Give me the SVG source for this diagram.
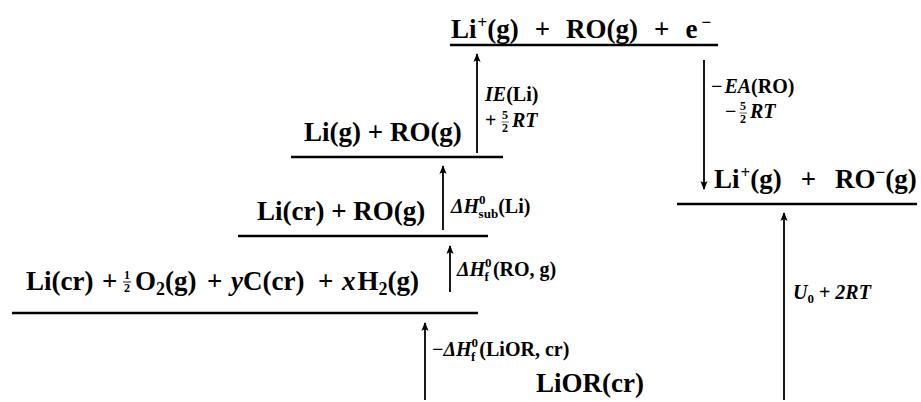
<svg xmlns="http://www.w3.org/2000/svg" width="921" height="402" viewBox="0 0 921 402">
<style>
.lvl{stroke:#000;stroke-width:2.4}
.arr{stroke:#000;stroke-width:1.8;fill:none}
.t{font-family:"Liberation Serif",serif;font-size:27px;font-weight:bold;fill:#000}
.l{font-family:"Liberation Serif",serif;font-size:20px;font-weight:bold;fill:#000}
.f{font-family:"Liberation Serif",serif;font-size:12px;font-weight:bold;fill:#000}
.i{font-style:italic}
.sup{font-size:17px}
.s{font-size:13px}
</style>
<defs>
<marker id="ah" markerWidth="12" markerHeight="10" refX="0" refY="0" viewBox="-10 -5 12 10" orient="auto" markerUnits="userSpaceOnUse">
<path d="M1,0 L-8,-3.6 L-6,0 L-8,3.6 z" fill="#000"/>
</marker>
</defs>
<rect width="921" height="402" fill="#fff"/>

<g id="level-ions-electron">
<line class="lvl" x1="450" y1="45" x2="718" y2="45"/>
<text class="t" x="451" y="38">Li<tspan class="sup" dx="1" dy="-10">+</tspan><tspan dy="10">(g)</tspan><tspan dx="16">+</tspan><tspan dx="16">RO(g)</tspan><tspan dx="16">+</tspan><tspan dx="16">e</tspan><tspan class="sup" dx="4" dy="-10">−</tspan></text>
</g>

<g id="level-gas-atoms">
<line class="lvl" x1="291" y1="157" x2="503" y2="157"/>
<text class="t" x="304" y="141">Li(g) + RO(g)</text>
</g>

<g id="level-crystal-li">
<line class="lvl" x1="238" y1="236" x2="488" y2="236"/>
<text class="t" x="257" y="220">Li(cr) + RO(g)</text>
</g>

<g id="level-elements">
<line class="lvl" x1="12" y1="313" x2="478" y2="313"/>
<text class="t" y="290"><tspan x="26">Li(cr)</tspan><tspan x="102">+</tspan><tspan x="135">O</tspan><tspan dy="5" font-size="18">2</tspan><tspan dy="-5">(g)</tspan><tspan x="207">+</tspan><tspan x="231" class="i">y</tspan><tspan>C(cr)</tspan><tspan x="318">+</tspan><tspan x="342" class="i">x</tspan><tspan dx="2">H</tspan><tspan dy="5" font-size="18">2</tspan><tspan dy="-5">(g)</tspan></text>
<text class="f" x="124" y="279">1</text>
<line x1="123" y1="282" x2="131" y2="282" stroke="#000" stroke-width="0.9"/>
<text class="f" x="124" y="292">2</text>
</g>

<g id="level-lior">
<text class="t" x="536" y="392" font-size="28">LiOR(cr)</text>
</g>

<g id="level-ion-pair">
<line class="lvl" x1="677" y1="204" x2="917" y2="204"/>
<text class="t" x="714" y="188">Li<tspan class="sup" dx="1" dy="-10">+</tspan><tspan dy="10">(g)</tspan><tspan dx="19">+</tspan><tspan dx="19">RO</tspan><tspan class="sup" dy="-10">−</tspan><tspan dy="10">(g)</tspan></text>
</g>

<g id="connectors">
<line class="arr" x1="477" y1="153" x2="477" y2="54" marker-end="url(#ah)"/>
<line class="arr" x1="443" y1="230" x2="443" y2="166" marker-end="url(#ah)"/>
<line class="arr" x1="450" y1="292" x2="450" y2="246" marker-end="url(#ah)"/>
<line class="arr" x1="425" y1="400" x2="425" y2="323" marker-end="url(#ah)"/>
<line class="arr" x1="704" y1="60" x2="704" y2="189" marker-end="url(#ah)"/>
<line class="arr" x1="784" y1="400" x2="784" y2="213" marker-end="url(#ah)"/>
</g>

<g id="labels">
<text class="l" x="485" y="101"><tspan class="i">IE</tspan>(Li)</text>
<text class="l" x="485" y="127">+</text>
<text class="f" x="502" y="119">5</text>
<line x1="501.5" y1="122" x2="509" y2="122" stroke="#000" stroke-width="0.6"/>
<text class="f" x="502" y="132">2</text>
<text class="l i" x="512" y="127">RT</text>

<text class="l" x="451" y="213"><tspan class="i">ΔH</tspan><tspan class="s" dy="-9">0</tspan><tspan class="s" dx="-7" dy="14">sub</tspan><tspan dy="-5">(Li)</tspan></text>

<text class="l" x="457" y="276"><tspan class="i">ΔH</tspan><tspan class="s" dy="-9">0</tspan><tspan class="s" dx="-7" dy="14">f</tspan><tspan dx="4" dy="-5">(RO, g)</tspan></text>

<text class="l" x="432" y="356">−<tspan class="i">ΔH</tspan><tspan class="s" dy="-9">0</tspan><tspan class="s" dx="-7" dy="14">f</tspan><tspan dx="4" dy="-5">(LiOR, cr)</tspan></text>

<text class="l" x="711" y="93">−<tspan class="i" dx="2">EA</tspan>(RO)</text>
<text class="l" x="725" y="118">−</text>
<text class="f" x="740" y="110">5</text>
<line x1="739.5" y1="113" x2="747" y2="113" stroke="#000" stroke-width="0.6"/>
<text class="f" x="740" y="123">2</text>
<text class="l i" x="750" y="118">RT</text>

<text class="l i" x="793" y="299">U<tspan dy="4" class="s" font-style="normal">0</tspan><tspan dy="-4" font-style="normal"> + </tspan>2RT</text>
</g>
</svg>
